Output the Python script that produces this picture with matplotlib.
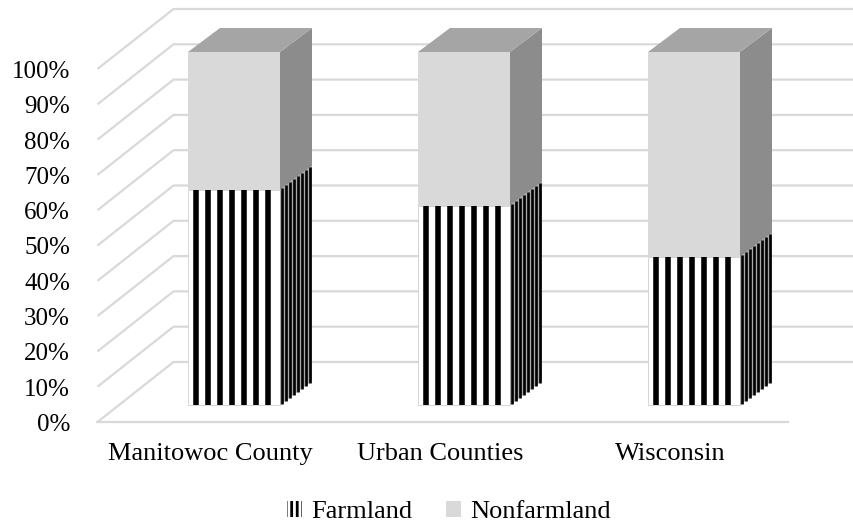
import numpy as np
import matplotlib
matplotlib.use("Agg")
from matplotlib import pyplot as plt
from matplotlib.patches import Polygon, Patch
from matplotlib.collections import LineCollection

categories = ["Manitowoc County", "Urban Counties", "Wisconsin"]
farmland = [0.61, 0.565, 0.42]
nonfarmland = [1 - v for v in farmland]
ticks = np.round(np.arange(0, 1.01, 0.1), 2)
tick_labels = ["%d%%" % round(t * 100) for t in ticks]

plt.rc('font', family='Liberation Serif')
plt.rc('hatch', linewidth=2.0)

W, H = 854, 524
fig = plt.figure(figsize=(W / 100, H / 100), dpi=100)
ax = fig.add_axes([0, 0, 1, 1])

# pixels per data unit in the plane of the bar fronts
sx, sy = 230.0, 353.0
x0px, y0px = 234.0, 119.0
ax.set_xlim(-x0px / sx, (W - x0px) / sx)
ax.set_ylim(-y0px / sy, (H - y0px) / sy)
ax.axis('off')


def px(dx, dy):
    return dx / sx, dy / sy


fdx, fdy = px(-21.5, -17)   # front edge of floor
bdx, bdy = px(54.5, 43)     # back wall
ddx, ddy = px(32, 24)       # depth of a bar
left, right = -0.5, 2.5
grid_c = '#d9d9d9'

# walls: diagonal on the side wall, then across the back wall
for t, lab in zip(ticks, tick_labels):
    ax.plot([left + fdx, left + bdx, right + bdx], [t + fdy, t + bdy, t + bdy],
            color=grid_c, lw=1.6, zorder=0, solid_capstyle='butt')
    ax.text((70 - x0px) / sx, t + fdy - 3 / sy, lab, ha='right', va='center',
            fontsize=18)
ax.plot([left + fdx, right + fdx], [fdy, fdy], color=grid_c, lw=1.6, zorder=0)

x = np.arange(len(categories))
w = 0.4
ax.bar(x, farmland, w, color='white', edgecolor='#d0d0d0', lw=0.6, zorder=2)
ax.bar(x, nonfarmland, w, bottom=farmland, color='#d9d9d9', zorder=2)

for i in range(len(categories)):
    xl, xr = x[i] - w / 2, x[i] + w / 2
    f = farmland[i]
    # front stripes of the farmland part
    step = 12 / sx
    xs = xl + 8 / sx + step * np.arange(7)
    ax.add_collection(LineCollection([[(s, 0), (s, f)] for s in xs],
                                     colors='black', linewidths=4.0,
                                     capstyle='butt', zorder=3))
    # side face of farmland
    ax.add_patch(Polygon([(xr, 0), (xr + ddx, ddy), (xr + ddx, f + ddy), (xr, f)],
                         closed=True, facecolor='#a8a8a8', lw=0, zorder=2))
    fr = (np.arange(8) + 0.5) / 8
    ax.add_collection(LineCollection(
        [[(xr + s * ddx, s * ddy), (xr + s * ddx, f + s * ddy)] for s in fr],
        colors='black', linewidths=1.9, capstyle='butt', zorder=3))
    # side and top of nonfarmland
    ax.add_patch(Polygon([(xr, f), (xr + ddx, f + ddy), (xr + ddx, 1 + ddy), (xr, 1)],
                         closed=True, facecolor='#8c8c8c', lw=0, zorder=2))
    ax.add_patch(Polygon([(xl, 1), (xl + ddx, 1 + ddy), (xr + ddx, 1 + ddy), (xr, 1)],
                         closed=True, facecolor='#a5a5a5', lw=0, zorder=2))
    ax.text(x[i] + fdx - 2.5 / sx, -0.138, categories[i], ha='center', va='center',
            fontsize=19)

handles = [Patch(facecolor='white', edgecolor='black', hatch='|||', lw=0),
           Patch(facecolor='#d9d9d9', lw=0)]
ax.legend(handles, ["Farmland", "Nonfarmland"], loc='center',
          bbox_to_anchor=(449 / W, 12 / H), ncol=2, frameon=False, fontsize=19,
          handlelength=0.55, handleheight=0.55, handletextpad=0.35,
          columnspacing=1.3)

fig.savefig("out.png", dpi=100)
